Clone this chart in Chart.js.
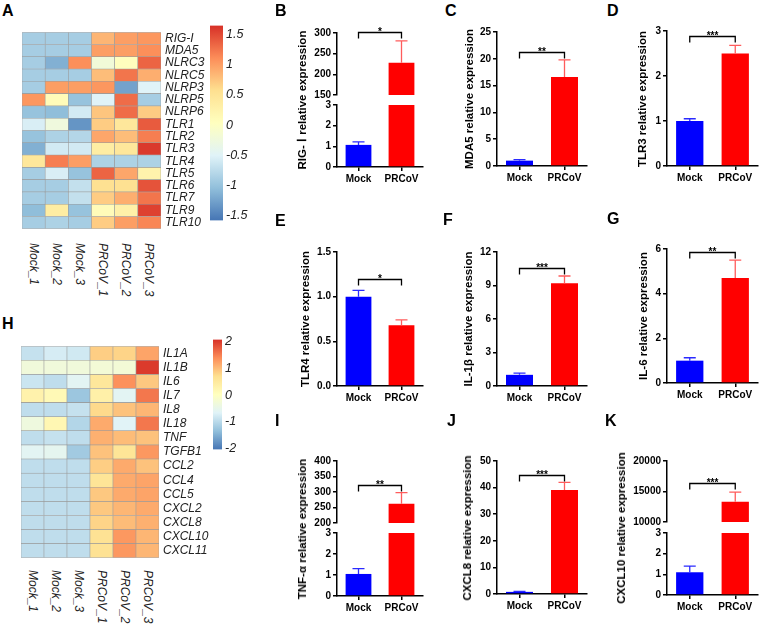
<!DOCTYPE html>
<html>
<head>
<meta charset="utf-8">
<script src="https://cdn.jsdelivr.net/npm/chart.js@4.4.1/dist/chart.umd.min.js"></script>
<style>
  body { margin: 0; background: #fff; }
  #fig { position: relative; width: 760px; height: 625px; overflow: hidden; font-family: "Liberation Sans", Arial, sans-serif; }
  canvas { position: absolute; }
  .lab { position: absolute; font-weight: bold; font-size: 16px; line-height: 16px; }
  .yt { position: absolute; font-weight: bold; font-size: 11.5px; line-height: 12px; white-space: nowrap; transform: translate(-50%, -50%) rotate(-90deg); }
  .cl { position: absolute; font-style: italic; font-size: 12px; line-height: 14px; white-space: nowrap; color: #222; transform-origin: 0 0; transform: rotate(90deg); }
</style>
</head>
<body>
<div id="fig"></div>
<script>
// ---- data ----
const samples = ['Mock_1', 'Mock_2', 'Mock_3', 'PRCoV_1', 'PRCoV_2', 'PRCoV_3'];

const genesA = ['RIG-I', 'MDA5', 'NLRC3', 'NLRC5', 'NLRP3', 'NLRP5', 'NLRP6', 'TLR1',
                'TLR2', 'TLR3', 'TLR4', 'TLR5', 'TLR6', 'TLR7', 'TLR9', 'TLR10'];
const heatA = [
  [-0.9, -0.9, -0.9, 0.85, 1.0, 1.05],
  [-0.9, -0.9, -0.9, 1.0, 1.0, 1.1],
  [-0.9, -1.15, 1.1, -0.2, 0.05, 1.35],
  [-0.9, -0.9, -0.9, 0.8, 1.25, 0.9],
  [-0.9, 1.0, 1.0, 1.05, -1.25, -0.5],
  [1.05, 0.1, -1.0, -0.5, 1.3, -0.9],
  [-1.0, -1.05, -0.6, 0.75, 1.3, 0.7],
  [-0.55, -0.25, -1.35, 0.7, 0.45, 1.4],
  [-1.0, -0.85, -0.8, 0.95, 0.8, 1.2],
  [-1.15, -0.6, -0.6, 0.35, 0.45, 1.6],
  [0.45, 1.2, 1.0, -0.85, -0.85, -0.85],
  [-0.9, -0.55, -1.0, 1.35, 0.95, 0.25],
  [-0.9, -0.9, -0.7, 0.55, 0.55, 1.45],
  [-0.9, -0.9, -0.7, 0.7, 0.9, 1.25],
  [-1.05, 0.35, -1.0, 0.1, 0.3, 1.55],
  [-0.9, -0.85, -0.9, 0.7, 1.0, 1.15]
];
const rangeA = [-1.58, 1.65];

const genesH = ['IL1A', 'IL1B', 'IL6', 'IL7', 'IL8', 'IL18', 'TNF', 'TGFB1',
                'CCL2', 'CCL4', 'CCL5', 'CXCL2', 'CXCL8', 'CXCL10', 'CXCL11'];
const heatH = [
  [-0.9, -0.75, -0.8, 0.85, 0.8, 1.2],
  [-0.3, -0.3, -0.3, -0.25, -0.25, 2.0],
  [-0.85, -0.95, -0.6, 0.55, 1.35, 0.9],
  [0.3, 0.15, -1.25, 0.35, -0.6, 1.55],
  [-0.95, -0.95, -0.9, 0.75, 0.95, 1.05],
  [-0.35, 0.2, -1.05, 1.15, -0.65, 1.55],
  [-0.95, -0.9, -0.95, 1.1, 1.0, 0.95],
  [-0.6, -0.55, -1.2, 0.95, 0.6, 1.3],
  [-0.95, -0.95, -0.95, 0.85, 1.15, 0.95],
  [-0.95, -0.95, -0.95, 0.6, 1.15, 1.2],
  [-0.95, -0.95, -0.95, 0.9, 1.15, 1.2],
  [-0.95, -0.95, -0.95, 0.9, 1.05, 1.15],
  [-0.95, -0.95, -0.95, 0.8, 1.0, 1.1],
  [-0.95, -0.95, -0.95, 0.65, 1.3, 1.05],
  [-0.95, -0.95, -0.95, 0.65, 1.3, 1.05]
];
const rangeH = [-2.03, 2.07];

// bar panels B..K
const groups = ['Mock', 'PRCoV'];
const yTitles = ['RIG- \u2160 relative expression', 'MDA5 relative expression', 'TLR3 relative expression',
                 'TLR4 relative expression', 'IL-1\u03b2 relative expression', 'IL-6 relative expression',
                 'TNF-\u03b1 relative expression', 'CXCL8 relative expression', 'CXCL10 relative expression'];
const mockMean = [1.07, 1.0, 1.0, 1.0, 1.0, 1.0, 1.05, 0.8, 1.1];
const mockSem = [0.15, 0.2, 0.05, 0.07, 0.15, 0.13, 0.25, 0.2, 0.3];
const prcovMean = [228, 16.6, 2.5, 0.68, 9.2, 4.7, 262, 39.1, 13300];
const prcovSem = [53, 3.2, 0.18, 0.06, 0.65, 0.8, 36, 2.9, 1600];
const sigHeight = [302, 21.2, 2.89, 1.2, 10.6, 5.87, 323, 44.7, 16400];
const sigLevel = ['*', '**', '***', '*', '***', '**', '**', '***', '***'];

// ---- layout ----
const panels = [
  { letter: 'B', lx: 275, ly: 5, ax: 337, ex: 423, tx: 302, segs: [{ min: 150, max: 300, step: 50, top: 33, bot: 95 }, { min: 0, max: 3, step: 1, top: 105, bot: 167 }] },
  { letter: 'C', lx: 445, ly: 5, ax: 497, ex: 587, tx: 469, segs: [{ min: 0, max: 25, step: 5, top: 32, bot: 166 }] },
  { letter: 'D', lx: 607, ly: 5, ax: 667, ex: 758, tx: 642, segs: [{ min: 0, max: 3, step: 1, top: 31, bot: 166 }] },
  { letter: 'E', lx: 275, ly: 215, ax: 337, ex: 423, tx: 305, segs: [{ min: 0, max: 1.5, step: 0.5, top: 252, bot: 386, dec: 1 }] },
  { letter: 'F', lx: 443, ly: 214, ax: 497, ex: 587, tx: 468, segs: [{ min: 0, max: 12, step: 3, top: 252, bot: 386 }] },
  { letter: 'G', lx: 607, ly: 213, ax: 667, ex: 758, tx: 643, segs: [{ min: 0, max: 6, step: 2, top: 249, bot: 383 }] },
  { letter: 'I', lx: 275, ly: 415, ax: 337, ex: 423, tx: 302, segs: [{ min: 200, max: 400, step: 50, top: 461, bot: 523 }, { min: 0, max: 3, step: 1, top: 533, bot: 596 }] },
  { letter: 'J', lx: 447, ly: 415, ax: 497, ex: 587, tx: 467, segs: [{ min: 0, max: 50, step: 10, top: 461, bot: 594 }] },
  { letter: 'K', lx: 605, ly: 415, ax: 667, ex: 758, tx: 621, segs: [{ min: 10000, max: 20000, step: 5000, top: 461, bot: 522 }, { min: 0, max: 3, step: 1, top: 533, bot: 595 }] }
];

const FONT = '"Liberation Sans", Arial, sans-serif';
Chart.defaults.font.family = FONT;
Chart.defaults.color = '#000';
Chart.defaults.animation = false;
Chart.defaults.responsive = false;
Chart.defaults.events = [];
Chart.defaults.plugins.legend.display = false;
Chart.defaults.plugins.tooltip.enabled = false;

const fig = document.getElementById('fig');
const YW = 50, PT = 8, PB = 8, PR = 4, XH = 26;

function mk(left, top, w, h) {
  const c = document.createElement('canvas');
  c.width = w; c.height = h;
  c.style.left = left + 'px';
  c.style.top = top + 'px';
  fig.appendChild(c);
  return c;
}

function text(cls, s, left, top) {
  const d = document.createElement('div');
  d.className = cls;
  d.textContent = s;
  d.style.left = left + 'px';
  d.style.top = top + 'px';
  fig.appendChild(d);
  return d;
}

// pheatmap default palette (rev RdYlBu, 7)
const palette = ['#4575B4', '#91BFDB', '#E0F3F8', '#FFFFBF', '#FEE090', '#FC8D59', '#D73027'];
const hex = c => [1, 3, 5].map(i => parseInt(c.substr(i, 2), 16));
function heatColor(v, r) {
  let t = (v - r[0]) / (r[1] - r[0]);
  t = Math.max(0, Math.min(1, t));
  const f = t * (palette.length - 1);
  const k = Math.min(Math.floor(f), palette.length - 2), u = f - k;
  const a = hex(palette[k]), b = hex(palette[k + 1]);
  return 'rgb(' + a.map((x, i) => Math.round(x + (b[i] - x) * u)).join(',') + ')';
}

// error bars + significance bracket
const errPlugin = {
  id: 'errbars',
  afterDatasetsDraw(chart) {
    const { ctx, chartArea: a } = chart;
    const y = chart.scales.y;
    const ds = chart.data.datasets[0];
    const meta = chart.getDatasetMeta(0);
    ctx.save();
    ctx.beginPath();
    ctx.rect(a.left - 20, a.top, a.right - a.left + 40, a.bottom - a.top);
    ctx.clip();
    ds.data.forEach((m, i) => {
      const bx = meta.data[i].x;
      const y0 = y.getPixelForValue(m), y1 = y.getPixelForValue(m + ds.errs[i]);
      ctx.strokeStyle = ds.errColors[i];
      ctx.lineWidth = 1.3;
      ctx.beginPath();
      ctx.moveTo(bx, y0); ctx.lineTo(bx, y1);
      ctx.moveTo(bx - 6, y1); ctx.lineTo(bx + 6, y1);
      ctx.stroke();
    });
    ctx.restore();
    if (ds.sig != null) {
      const x0 = meta.data[0].x, x1 = meta.data[1].x, sy = Math.round(y.getPixelForValue(ds.sig)) + 0.5;
      ctx.save();
      ctx.strokeStyle = '#000';
      ctx.lineWidth = 1.3;
      ctx.beginPath();
      ctx.moveTo(x0, sy + 6); ctx.lineTo(x0, sy); ctx.lineTo(x1, sy); ctx.lineTo(x1, sy + 6);
      ctx.stroke();
      ctx.fillStyle = '#000';
      ctx.font = 'bold 10px ' + FONT;
      ctx.textAlign = 'center';
      ctx.textBaseline = 'alphabetic';
      ctx.fillText(ds.stars, (x0 + x1) / 2, sy + 2);
      ctx.restore();
    }
  }
};

function barPanel(p, i) {
  const n = p.segs.length;
  p.segs.forEach((s, k) => {
    const first = k === 0, last = k === n - 1;
    const h = s.bot - s.top;
    const cv = mk(p.ax - YW, s.top - PT, YW + (p.ex - p.ax) + PR, PT + h + (last ? XH : PB));
    const tickFont = { size: 10, weight: 'bold' };
    const xScale = {
      display: last,
      offset: true,
      grid: { offset: false, drawOnChartArea: false, tickLength: 4, color: '#000', lineWidth: 1.5 },
      border: { color: '#000', width: 1.5 },
      ticks: { font: tickFont, padding: 2 }
    };
    if (last) xScale.afterFit = sc => { sc.height = XH; };
    new Chart(cv, {
      type: 'bar',
      data: {
        labels: groups,
        datasets: [{
          data: [mockMean[i], prcovMean[i]],
          errs: [mockSem[i], prcovSem[i]],
          errColors: ['#2a2aff', '#ff5c5c'],
          sig: first ? sigHeight[i] : null,
          stars: sigLevel[i],
          backgroundColor: ['#0000ff', '#ff0000'],
          barPercentage: 0.6,
          categoryPercentage: 1,
          clip: 0
        }]
      },
      options: {
        layout: { padding: { top: PT, right: PR, bottom: last ? 0 : PB, left: 0 } },
        scales: {
          x: xScale,
          y: {
            min: s.min, max: s.max,
            ticks: { stepSize: s.step, font: tickFont, padding: 2,
                     callback: v => s.dec ? v.toFixed(s.dec) : String(v) },
            grid: { drawOnChartArea: false, tickLength: 4, color: '#000', lineWidth: 1.5 },
            border: { color: '#000', width: 1.5 },
            afterFit: sc => { sc.width = YW; }
          }
        }
      },
      plugins: [errPlugin]
    });
  });
  text('lab', p.letter, p.lx, p.ly - 2);
  const cy = (p.segs[0].top + p.segs[n - 1].bot) / 2;
  text('yt', yTitles[i], p.tx, cy);
}

function heatmap(genes, vals, range, box, labTop) {
  const AW = 62;
  const cv = mk(box.left - 2, box.top - 2, 2 + box.w + AW, box.h + 4);
  const datasets = vals.slice().reverse().map(row => ({
    data: samples.map(() => 1),
    backgroundColor: row.map(v => heatColor(v, range)),
    borderColor: '#9a9a9a',
    borderWidth: 0.6,
    borderSkipped: false,
    barPercentage: 1,
    categoryPercentage: 1
  }));
  const chart = new Chart(cv, {
    type: 'bar',
    data: { labels: samples, datasets },
    options: {
      layout: { padding: { left: 2, top: 2, bottom: 2, right: 0 } },
      scales: {
        x: { stacked: true, display: false, offset: true },
        y: { stacked: true, display: false, min: 0, max: genes.length },
        yGenes: {
          type: 'category', axis: 'y', position: 'right', labels: genes, offset: true,
          grid: { display: false, drawTicks: false }, border: { display: false },
          ticks: { autoSkip: false, padding: 4, color: '#222', font: { size: 12, style: 'italic' } },
          afterFit: sc => { sc.width = AW; }
        }
      }
    }
  });
  samples.forEach((s, j) => {
    const cx = box.left - 2 + chart.scales.x.getPixelForValue(j);
    text('cl', s, cx + 7, labTop);
  });
}

function colorbar(range, box, step) {
  const AW = 40, P = 8;
  const cv = mk(box.left, box.top - P, box.w + AW, box.h + 2 * P);
  new Chart(cv, {
    type: 'bar',
    data: {
      labels: [''],
      datasets: [{
        data: [range],
        backgroundColor: c => {
          const ch = c.chart;
          if (!ch.chartArea) return '#fff';
          const y = ch.scales.y;
          const g = ch.ctx.createLinearGradient(0, y.getPixelForValue(range[0]), 0, y.getPixelForValue(range[1]));
          palette.forEach((col, k) => g.addColorStop(k / (palette.length - 1), col));
          return g;
        },
        borderSkipped: false,
        barPercentage: 1,
        categoryPercentage: 1
      }]
    },
    options: {
      layout: { padding: { top: P, bottom: P, left: 0, right: 0 } },
      scales: {
        x: { display: false },
        y: {
          position: 'right', min: range[0], max: range[1],
          ticks: { stepSize: step, includeBounds: false, padding: 3, color: '#222',
                   font: { size: 12.5, style: 'italic' }, callback: v => String(v) },
          grid: { display: false, drawTicks: false }, border: { display: false },
          afterFit: sc => { sc.width = AW; }
        }
      }
    }
  });
}

// ---- build ----
text('lab', 'A', 2, 3);
heatmap(genesA, heatA, rangeA, { left: 22, top: 23, w: 139, h: 215 }, 243);
colorbar(rangeA, { left: 210, top: 23, w: 13, h: 200 }, 0.5);

text('lab', 'H', 2, 316);
heatmap(genesH, heatH, rangeH, { left: 21, top: 337, w: 138, h: 230 }, 570);
colorbar(rangeH, { left: 213, top: 337, w: 9, h: 115 }, 1);

panels.forEach((p, i) => barPanel(p, i));
</script>
</body>
</html>
